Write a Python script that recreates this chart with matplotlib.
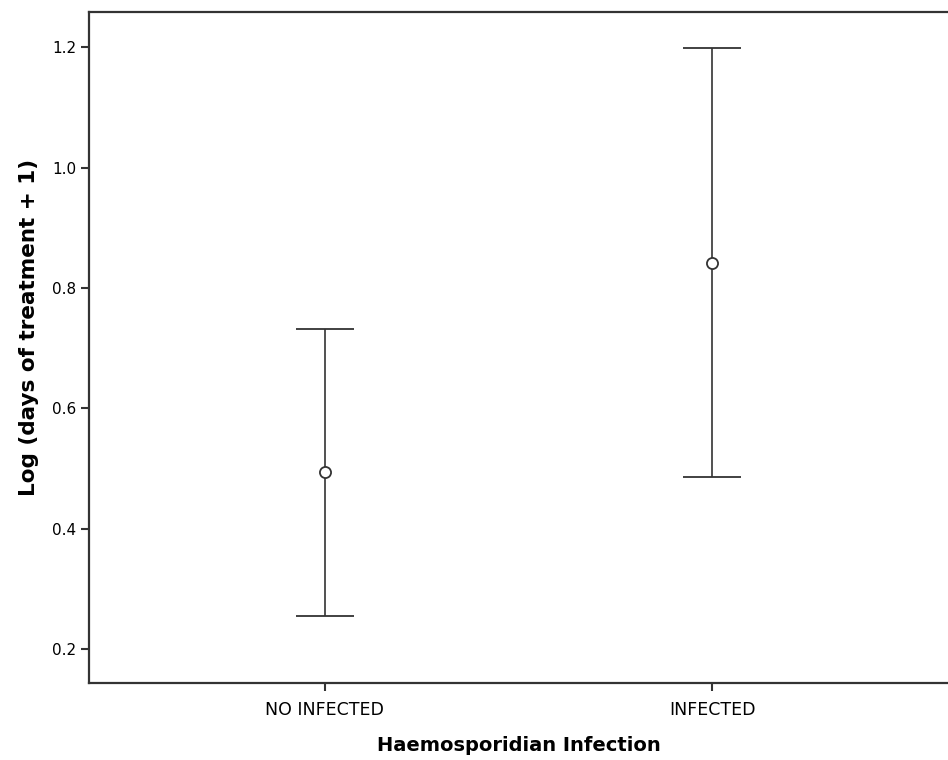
import matplotlib.pyplot as plt

categories = ["NO INFECTED", "INFECTED"]
means = [0.494, 0.842]
lower = [0.255, 0.486]
upper = [0.732, 1.198]

LINE = "#333333"

fig = plt.figure(figsize=(9.48, 7.6), dpi=100)
ax = fig.add_axes([0.094, 0.101, 0.906, 0.883])

x = list(range(len(categories)))
yerr = [[m - lo for m, lo in zip(means, lower)],
        [hi - m for m, hi in zip(means, upper)]]
ax.errorbar(x, means, yerr=yerr, fmt="o", color=LINE, mfc="white",
            mec=LINE, ms=8, mew=1.3, elinewidth=1.2, capsize=21, capthick=1.2)

ax.set_xlim(-0.608, 1.608)
ax.set_ylim(0.1435, 1.258)
ax.set_xticks(x)
ax.set_xticklabels(categories, fontsize=12.5)
ax.set_yticks([0.2, 0.4, 0.6, 0.8, 1.0, 1.2])
ax.set_yticklabels(["0.2", "0.4", "0.6", "0.8", "1.0", "1.2"], fontsize=11)
ax.tick_params(direction="out", length=6, width=1.5, color=LINE, pad=3)
ax.tick_params(axis="x", pad=7)

for side in ["left", "bottom", "top"]:
    ax.spines[side].set_linewidth(1.6)
    ax.spines[side].set_color(LINE)
ax.spines["right"].set_visible(False)

ax.set_xlabel("Haemosporidian Infection", fontsize=14, fontweight="bold")
ax.set_ylabel("Log (days of treatment + 1)", fontsize=15.5, fontweight="bold")
ax.xaxis.set_label_coords(0.5, -0.079)
ax.yaxis.set_label_coords(-0.058, 0.53)

fig.savefig("out.png", dpi=100, facecolor="white")
